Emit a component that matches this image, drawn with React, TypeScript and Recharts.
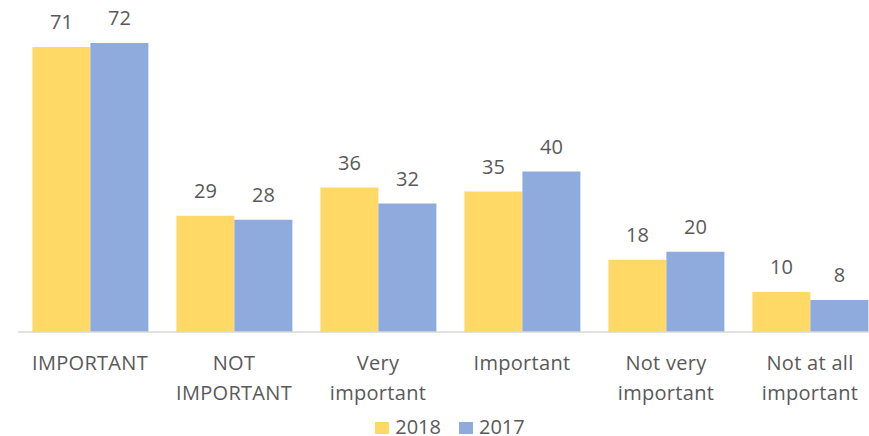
import React from 'react';
import { BarChart, Bar, XAxis, YAxis, Legend, LabelList } from 'recharts';

const categories = ['IMPORTANT', 'NOT\nIMPORTANT', 'Very\nimportant', 'Important', 'Not very\nimportant', 'Not at all\nimportant'];
const values2018 = [71, 29, 36, 35, 18, 10];
const values2017 = [72, 28, 32, 40, 20, 8];
const seriesNames = ['2018', '2017'];
const colors = ['#FFD966', '#8FAADC'];

const data = categories.map((c, i) => ({ name: c, y2018: values2018[i], y2017: values2017[i] }));

const FONT = '"Open Sans", sans-serif';
const TEXT = '#595959';

const Tick = (props: any) => {
  const { x, y, payload } = props;
  const lines = String(payload.value).split('\n');
  return (
    <text x={x} y={y} textAnchor="middle" fill={TEXT} fontSize={20} fontFamily={FONT} letterSpacing={0.3}>
      {lines.map((l, i) => (
        <tspan key={i} x={x} dy={i === 0 ? '0.71em' : 30}>{l}</tspan>
      ))}
    </text>
  );
};

const LegendContent = () => (
  <div style={{ height: 30, display: 'flex', justifyContent: 'center', alignItems: 'flex-end', fontFamily: FONT, fontSize: 20, color: TEXT, lineHeight: '18px' }}>
    {seriesNames.map((n, i) => (
      <span key={n} style={{ display: 'flex', alignItems: 'center', marginRight: i === 0 ? 18 : 0 }}>
        <span style={{ display: 'inline-block', width: 14, height: 12, background: colors[i], marginRight: 6, marginTop: 2 }} />
        <span>{n}</span>
      </span>
    ))}
  </div>
);

export default function App() {
  return (
    <div style={{ position: 'fixed', left: 0, top: 0, width: 869, height: 436, overflow: 'hidden', background: '#fff' }}>
      <BarChart width={900} height={436} data={data} margin={{ top: 11, right: 18, left: 18, bottom: 0 }} barCategoryGap="10%" barGap={0}>
        <XAxis dataKey="name" interval={0} tickLine={false} tickSize={0} tickMargin={24} height={74} axisLine={{ stroke: '#D9D9D9', strokeWidth: 1.5 }} tick={<Tick />} />
        <YAxis hide domain={[0, 80]} />
        <Legend verticalAlign="bottom" content={<LegendContent />} />
        <Bar dataKey="y2018" name="2018" fill={colors[0]} isAnimationActive={false}>
          <LabelList dataKey="y2018" position="top" offset={18} fill={TEXT} fontSize={20} fontFamily={FONT} />
        </Bar>
        <Bar dataKey="y2017" name="2017" fill={colors[1]} isAnimationActive={false}>
          <LabelList dataKey="y2017" position="top" offset={18} fill={TEXT} fontSize={20} fontFamily={FONT} />
        </Bar>
      </BarChart>
    </div>
  );
}
